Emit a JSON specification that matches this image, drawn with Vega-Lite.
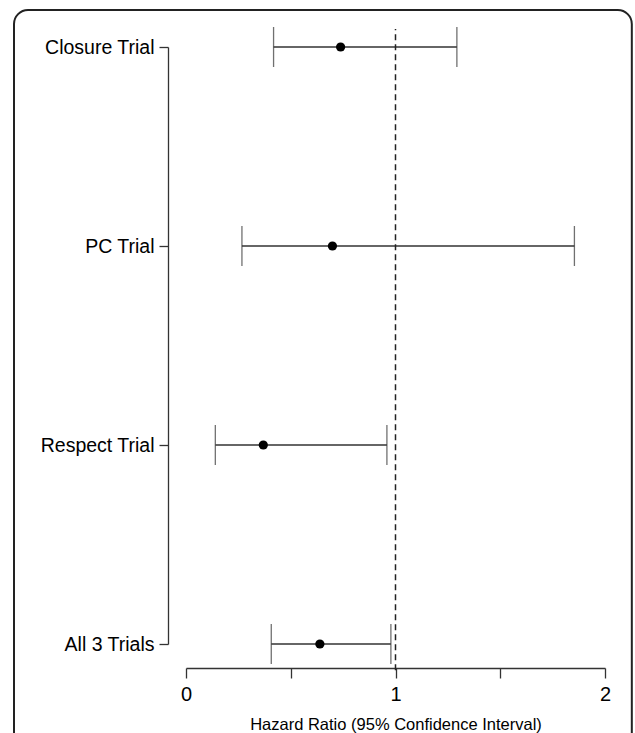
{
  "$schema": "https://vega.github.io/schema/vega-lite/v6.json",
  "width": 419,
  "height": 597,
  "autosize": {"type": "none"},
  "padding": {"left": 186, "top": 47, "right": 30, "bottom": 89},
  "config": {
    "view": {"stroke": null},
    "font": "Liberation Sans",
    "axis": {"grid": false, "labelFont": "Liberation Sans", "titleFont": "Liberation Sans", "labelColor": "#000", "titleColor": "#000"}
  },
  "datasets": {
    "trials": [
      {"trial": "Closure Trial", "hr": 0.738, "lo": 0.418, "hi": 1.293},
      {"trial": "PC Trial", "hr": 0.699, "lo": 0.267, "hi": 1.854},
      {"trial": "Respect Trial", "hr": 0.369, "lo": 0.140, "hi": 0.959},
      {"trial": "All 3 Trials", "hr": 0.639, "lo": 0.407, "hi": 0.978}
    ],
    "ref": [
      {"x": 1, "y": -0.044, "y2": 1.03}
    ],
    "frame": [
      {"x": -0.821, "x2": 2.128, "y": 1.062, "y2": -0.2}
    ]
  },
  "layer": [
    {
      "data": {"name": "trials"},
      "encoding": {
        "y": {
          "field": "trial", "type": "nominal", "sort": null,
          "scale": {"type": "point", "padding": 0},
          "axis": {
            "title": null, "offset": 18, "tickSize": 9, "labelPadding": 5,
            "labelFontSize": 19.5, "domainColor": "#333", "tickColor": "#333",
            "domainWidth": 1.3, "tickWidth": 1.3
          }
        }
      },
      "layer": [
        {
          "mark": {"type": "rule", "color": "#333", "strokeWidth": 1.3},
          "encoding": {
            "x": {
              "field": "lo", "type": "quantitative",
              "scale": {"domain": [0, 2], "nice": false, "zero": false},
              "axis": {
                "values": [0, 0.5, 1, 1.5, 2],
                "labelExpr": "datum.value % 1 === 0 ? format(datum.value, 'd') : ''",
                "labelFlush": false,
                "offset": 24, "tickSize": 10, "labelPadding": 6,
                "labelFontSize": 20,
                "title": "Hazard Ratio (95% Confidence Interval)",
                "titleFontSize": 16.5, "titleFontWeight": "normal", "titlePadding": 12,
                "domainColor": "#333", "tickColor": "#333",
                "domainWidth": 1.3, "tickWidth": 1.3
              }
            },
            "x2": {"field": "hi"}
          }
        },
        {
          "mark": {"type": "tick", "color": "#333", "thickness": 1.3, "size": 40, "orient": "vertical"},
          "encoding": {
            "x": {"field": "lo", "type": "quantitative", "scale": {"domain": [0, 2], "nice": false, "zero": false}}
          }
        },
        {
          "mark": {"type": "tick", "color": "#333", "thickness": 1.3, "size": 40, "orient": "vertical"},
          "encoding": {
            "x": {"field": "hi", "type": "quantitative", "scale": {"domain": [0, 2], "nice": false, "zero": false}}
          }
        },
        {
          "mark": {"type": "point", "filled": true, "color": "#000", "size": 85, "opacity": 1},
          "encoding": {
            "x": {"field": "hr", "type": "quantitative", "scale": {"domain": [0, 2], "nice": false, "zero": false}}
          }
        }
      ]
    },
    {
      "layer": [
        {
          "data": {"name": "ref"},
          "mark": {"type": "rule", "color": "#222", "strokeWidth": 1.5, "strokeDash": [6, 4]},
          "encoding": {
            "x": {"field": "x", "type": "quantitative", "scale": {"domain": [0, 2], "nice": false, "zero": false}},
            "y": {"field": "y", "type": "quantitative", "scale": {"domain": [0, 1], "nice": false, "zero": false}, "axis": null},
            "y2": {"field": "y2"}
          }
        },
        {
          "data": {"name": "frame"},
          "mark": {"type": "rect", "fill": null, "fillOpacity": 0, "stroke": "#222", "strokeWidth": 2, "cornerRadius": 14},
          "encoding": {
            "x": {"field": "x", "type": "quantitative", "scale": {"domain": [0, 2], "nice": false, "zero": false}},
            "x2": {"field": "x2"},
            "y": {"field": "y", "type": "quantitative", "scale": {"domain": [0, 1], "nice": false, "zero": false}, "axis": null},
            "y2": {"field": "y2"}
          }
        }
      ]
    }
  ],
  "resolve": {"scale": {"y": "independent"}, "axis": {"y": "independent"}}
}
